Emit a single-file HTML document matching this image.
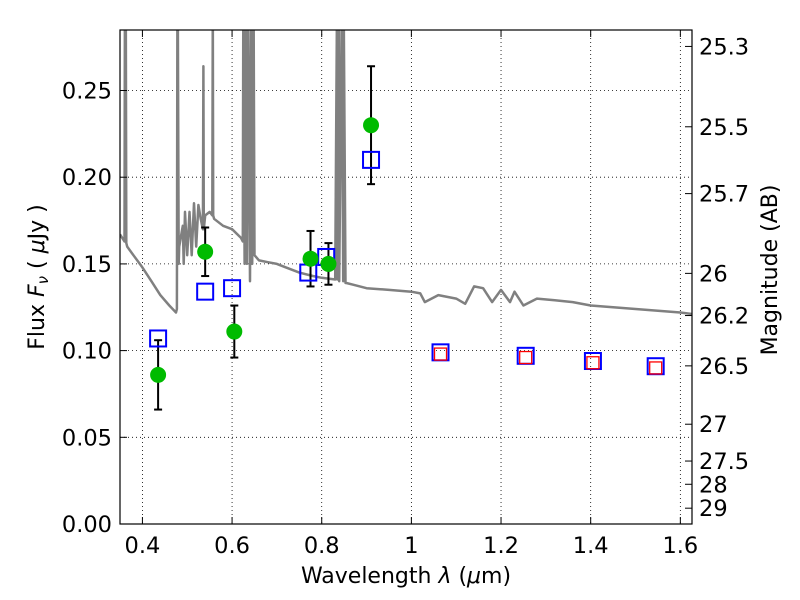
<!DOCTYPE html>
<html><head><meta charset="utf-8"><style>
body{margin:0;background:#fff}
svg{display:block;font-family:"DejaVu Sans","Liberation Sans",sans-serif}
</style></head><body>
<svg id="chart" width="800" height="600" xmlns="http://www.w3.org/2000/svg">
<defs><clipPath id="clip"><rect x="120" y="30" width="572" height="494"/></clipPath></defs>
<g id="grid"></g>
<g id="spec" clip-path="url(#clip)"></g>
<g id="marks" clip-path="url(#clip)"></g>
<rect x="120" y="30" width="572" height="494" fill="none" stroke="#000" stroke-width="1.2"/>
<g id="axes"></g>
<text x="406" y="583" font-size="22" text-anchor="middle">Wavelength  <tspan font-style="italic">λ</tspan> (<tspan font-style="italic">μ</tspan>m)</text>
<text transform="translate(44,277) rotate(-90)" font-size="22" text-anchor="middle">Flux  <tspan font-style="italic">F</tspan><tspan font-style="italic" font-size="15" dy="4">ν</tspan><tspan dy="-4">  ( </tspan><tspan font-style="italic">μ</tspan>Jy )</text>
<text transform="translate(777,270) rotate(-90)" font-size="22" text-anchor="middle">Magnitude (AB)</text>
</svg>
<script>
const xTicks=[0.4,0.6,0.8,1.0,1.2,1.4,1.6];
const xTickLabels=["0.4","0.6","0.8","1","1.2","1.4","1.6"];
const yTicks=[0,0.05,0.10,0.15,0.20,0.25];
const yTickLabels=["0.00","0.05","0.10","0.15","0.20","0.25"];
const magTicks=[25.3,25.5,25.7,26,26.2,26.5,27,27.5,28,29];
const magTickLabels=["25.3","25.5","25.7","26","26.2","26.5","27","27.5","28","29"];
const obsWave=[0.435,0.54,0.605,0.775,0.815,0.91];
const obsFlux=[0.086,0.157,0.111,0.153,0.150,0.230];
const obsErr=[0.020,0.014,0.015,0.016,0.012,0.034];
const modelWave=[0.435,0.54,0.60,0.77,0.81,0.91,1.065,1.255,1.405,1.545];
const modelFlux=[0.107,0.134,0.136,0.145,0.154,0.210,0.099,0.097,0.094,0.091];
const model2Wave=[1.065,1.255,1.405,1.545];
const model2Flux=[0.098,0.096,0.093,0.090];
const specWave=[0.35,0.36,0.361,0.362,0.363,0.364,0.366,0.38,0.40,0.42,0.44,0.46,0.475,0.477,0.478,0.479,0.481,0.482,0.49,0.492,0.495,0.5,0.505,0.51,0.515,0.52,0.525,0.53,0.535,0.536,0.537,0.54,0.55,0.556,0.557,0.558,0.56,0.58,0.6,0.62,0.624,0.625,0.628,0.63,0.633,0.636,0.64,0.643,0.645,0.648,0.65,0.66,0.68,0.7,0.72,0.75,0.78,0.8,0.83,0.834,0.835,0.838,0.839,0.845,0.848,0.849,0.853,0.855,0.87,0.9,0.95,1.0,1.02,1.03,1.06,1.1,1.12,1.14,1.16,1.18,1.2,1.22,1.23,1.25,1.28,1.32,1.36,1.4,1.45,1.5,1.55,1.6,1.63];
const specFlux=[0.167,0.163,0.30,0.163,0.30,0.162,0.160,0.155,0.148,0.140,0.132,0.126,0.122,0.124,0.30,0.30,0.150,0.16,0.172,0.15,0.18,0.155,0.18,0.155,0.185,0.16,0.184,0.176,0.17,0.264,0.17,0.178,0.18,0.178,0.30,0.178,0.176,0.172,0.170,0.165,0.163,0.30,0.15,0.30,0.15,0.30,0.14,0.30,0.15,0.30,0.155,0.152,0.151,0.150,0.148,0.145,0.143,0.142,0.141,0.30,0.141,0.30,0.140,0.30,0.140,0.30,0.139,0.139,0.138,0.136,0.135,0.134,0.133,0.128,0.132,0.130,0.127,0.137,0.136,0.128,0.135,0.128,0.134,0.126,0.130,0.129,0.128,0.126,0.125,0.124,0.123,0.122,0.121,0.120];
const X0=0.35,X1=1.626,Y1=0.2849;
function xs(v){return 120+(v-X0)/(X1-X0)*572;}
function ys(v){return 524-v/Y1*494;}
function magToFlux(m){return Math.pow(10,(23.9-m)/2.5);}
const NS="http://www.w3.org/2000/svg";
function mk(tag,attrs,parent,txt){const e=document.createElementNS(NS,tag);for(const k in attrs)e.setAttribute(k,attrs[k]);if(txt!==undefined)e.textContent=txt;parent.appendChild(e);return e;}
const grid=document.getElementById('grid'),axes=document.getElementById('axes');
xTicks.forEach((t,i)=>{const x=xs(t);
 let g=mk('line',{x1:x,x2:x,y1:30,y2:524,stroke:'#000','stroke-width':0.8,'stroke-dasharray':'1,3'},grid);
 
 
 mk('line',{x1:x,x2:x,y1:524,y2:517,stroke:'#000'},axes);
 mk('line',{x1:x,x2:x,y1:30,y2:37,stroke:'#000'},axes);
 let l=mk('text',{x:x,y:553,'font-size':22.5,'text-anchor':'middle'},axes,xTickLabels[i]);
 
 
});
yTicks.forEach((t,i)=>{const y=ys(t);
 let g=mk('line',{x1:120,x2:692,y1:y,y2:y,stroke:'#000','stroke-width':0.8,'stroke-dasharray':'1,3'},grid);
 
 
 mk('line',{x1:120,x2:127,y1:y,y2:y,stroke:'#000'},axes);
 let l=mk('text',{x:112,y:y+8,'font-size':22.5,'text-anchor':'end'},axes,yTickLabels[i]);
 
 
});
magTicks.forEach((m,i)=>{const y=ys(magToFlux(m));
 mk('line',{x1:685,x2:692,y1:y,y2:y,stroke:'#000'},axes);
 let l=mk('text',{x:699,y:y+8,'font-size':22.5},axes,magTickLabels[i]);
 
 
});
const spec=document.getElementById('spec');
let p=specWave.map((w,i)=>(i?'L':'M')+xs(w).toFixed(1)+','+ys(specFlux[i]).toFixed(1)).join('');
let sp=mk('path',{d:p,fill:'none',stroke:'#808080','stroke-width':2.5,'stroke-linejoin':'round'},spec);


const marks=document.getElementById('marks');
obsWave.forEach((w,i)=>{const x=xs(w),yl=ys(obsFlux[i]-obsErr[i]),yh=ys(obsFlux[i]+obsErr[i]);
 let g=mk('g',{},marks);
 
 
 mk('line',{x1:x,x2:x,y1:yl,y2:yh,stroke:'#000','stroke-width':2},g);
 mk('line',{x1:x-4,x2:x+4,y1:yl,y2:yl,stroke:'#000','stroke-width':2},g);
 mk('line',{x1:x-4,x2:x+4,y1:yh,y2:yh,stroke:'#000','stroke-width':2},g);
});
modelWave.forEach((w,i)=>{let r=mk('rect',{x:xs(w)-8,y:ys(modelFlux[i])-8,width:16,height:16,fill:'none',stroke:'#0000ff','stroke-width':2},marks);
 
 
});
model2Wave.forEach((w,i)=>{let r=mk('rect',{x:xs(w)-6,y:ys(model2Flux[i])-6,width:12,height:12,fill:'none',stroke:'#ff0000','stroke-width':1.3},marks);
 
 
});
obsWave.forEach((w,i)=>{let c=mk('circle',{cx:xs(w),cy:ys(obsFlux[i]),r:8,fill:'#00bb00'},marks);
 
 
});
</script>
</body></html>
